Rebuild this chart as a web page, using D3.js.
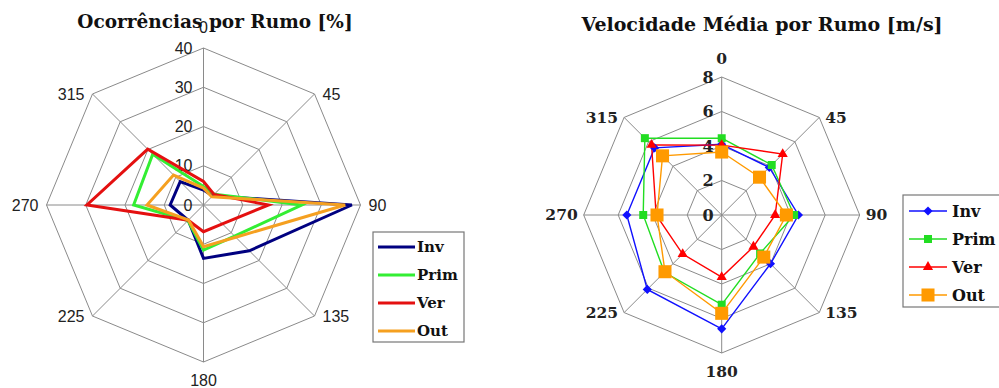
<!DOCTYPE html>
<html>
<head>
<meta charset="utf-8">
<script src="https://cdn.jsdelivr.net/npm/d3@7/dist/d3.min.js"></script>
<style>
html,body{margin:0;padding:0;background:#fff;}
svg{display:block;}
</style>
</head>
<body>
<svg id="chart" width="999" height="388"></svg>
<script>
// ---------- DATA ----------
const directions = [0, 45, 90, 135, 180, 225, 270, 315];
const directionLabels = ["0", "45", "90", "135", "180", "225", "270", "315"];
const seriesNames = ["Inv", "Prim", "Ver", "Out"];

// Ocorrências por Rumo [%]
const occTicks = [0, 10, 20, 30, 40];
const occInv  = [3.8, 3.3, 37.8, 16.5, 13.6, 5.5, 8.5, 8.4];
const occPrim = [4.7, 3.9, 25.0, 11.2, 11.5, 5.6, 17.8, 18.3];
const occVer  = [6.0, 3.8, 16.6, 6.8, 6.8, 5.5, 29.7, 20.1];
const occOut  = [4.3, 3.0, 36.1, 11.6, 10.6, 5.4, 14.4, 10.8];

// Velocidade Média por Rumo [m/s]
const velTicks = [0, 2, 4, 6, 8];
const velInv  = [4.1, 3.9, 4.45, 4.0, 6.6, 6.1, 5.5, 5.5];
const velPrim = [4.45, 4.1, 4.2, 3.15, 5.2, 4.7, 4.55, 6.3];
const velVer  = [4.05, 5.0, 3.1, 2.6, 3.6, 3.2, 3.8, 5.75];
const velOut  = [3.65, 3.1, 3.75, 3.45, 5.7, 4.65, 3.75, 4.85];

// ---------- DRAW ----------
const svg = d3.select("#chart");
const gridColor = "#8a8a8a";

function radar(opts) {
  const g = svg.append("g").attr("transform", `translate(${opts.cx},${opts.cy})`);
  const r = d3.scaleLinear().domain([0, d3.max(opts.ticks)]).range([0, opts.R]);
  const ang = d => d * Math.PI / 180;
  const ringLine = d3.lineRadial().angle(d => ang(d.a)).radius(d => r(d.v)).curve(d3.curveLinearClosed);

  // rings
  opts.ticks.filter(t => t > 0).forEach(t => {
    g.append("path")
      .attr("d", ringLine(directions.map(a => ({a, v: t}))))
      .attr("fill", "none").attr("stroke", gridColor).attr("stroke-width", 1);
  });
  // spokes
  const maxT = d3.max(opts.ticks);
  directions.forEach(a => {
    g.append("line")
      .attr("x1", 0).attr("y1", 0)
      .attr("x2", r(maxT) * Math.sin(ang(a)))
      .attr("y2", -r(maxT) * Math.cos(ang(a)))
      .attr("stroke", gridColor).attr("stroke-width", 1);
  });
  // tick labels
  opts.ticks.forEach(t => {
    g.append("text")
      .attr("x", opts.tickDx).attr("y", -r(t))
      .attr("dy", "0.35em")
      .attr("text-anchor", "end")
      .attr("font-family", opts.tickFont)
      .attr("font-weight", opts.tickWeight)
      .attr("font-size", opts.tickSize)
      .attr("fill", "#222")
      .text(t);
  });
  // direction labels
  directions.forEach((a, i) => {
    const vx = r(maxT) * Math.sin(ang(a));
    const vy = -r(maxT) * Math.cos(ang(a));
    let x = vx, y = vy, anchor = "middle";
    if (a === 0) { y = vy - opts.vGapTop; }
    else if (a === 180) { y = vy + opts.vGapBottom; }
    else if (a < 180) { x = vx + opts.hGap; anchor = "start"; }
    else { x = vx - opts.hGap; anchor = "end"; }
    g.append("text")
      .attr("x", x).attr("y", y).attr("dy", "0.35em")
      .attr("text-anchor", anchor)
      .attr("font-family", opts.tickFont)
      .attr("font-weight", opts.tickWeight)
      .attr("font-size", opts.dirSize)
      .attr("fill", "#222")
      .text(directionLabels[i]);
  });

  // series
  const line = d3.lineRadial()
    .angle((d, i) => ang(directions[i]))
    .radius(d => r(d))
    .curve(d3.curveLinearClosed);
  opts.series.forEach(s => {
    g.append("path")
      .attr("d", line(s.values))
      .attr("fill", "none")
      .attr("stroke", s.color)
      .attr("stroke-width", opts.lineWidth)
      .attr("stroke-linejoin", "miter");
  });
  if (opts.markers) {
    opts.series.forEach(s => {
      s.values.forEach((v, i) => {
        const x = r(v) * Math.sin(ang(directions[i]));
        const y = -r(v) * Math.cos(ang(directions[i]));
        drawMarker(g, s, x, y);
      });
    });
  }

  // title
  svg.append("text")
    .attr("x", opts.titleX).attr("y", opts.titleY)
    .attr("text-anchor", "middle")
    .attr("font-family", "'DejaVu Serif', serif")
    .attr("font-weight", "bold")
    .attr("font-size", opts.titleSize)
    .attr("fill", "#111")
    .text(opts.title);

  // legend
  const L = opts.legend;
  const lg = svg.append("g").attr("transform", `translate(${L.x},${L.y})`);
  lg.append("rect").attr("x", 0).attr("y", 0).attr("width", L.w).attr("height", L.h)
    .attr("fill", "#fff").attr("stroke", "#777").attr("stroke-width", 1.2);
  opts.series.forEach((s, i) => {
    const yy = L.row0 + i * L.rowH;
    lg.append("line").attr("x1", L.lx1).attr("x2", L.lx2).attr("y1", yy).attr("y2", yy)
      .attr("stroke", s.color).attr("stroke-width", opts.lineWidth);
    if (opts.markers) drawMarker(lg, s, (L.lx1 + L.lx2) / 2, yy);
    lg.append("text").attr("x", L.tx).attr("y", yy).attr("dy", "0.35em")
      .attr("font-family", "'DejaVu Serif', serif").attr("font-weight", "bold")
      .attr("font-size", L.fontSize).attr("fill", "#111").text(s.name);
  });
}

function drawMarker(g, s, x, y) {
  const sym = d3.symbol().type(s.symbol).size(s.size);
  g.append("path")
    .attr("d", sym())
    .attr("transform", `translate(${x},${y}) rotate(${s.rotate || 0})`)
    .attr("fill", s.color);
}

radar({
  cx: 203.5, cy: 205, R: 157,
  ticks: occTicks,
  tickDx: -11, tickFont: "'Liberation Sans', Arial, sans-serif", tickWeight: "normal",
  tickSize: 16, dirSize: 16, hGap: 8, vGapTop: 21, vGapBottom: 18,
  lineWidth: 3, markers: false,
  series: [
    {name: seriesNames[0], values: occInv,  color: "#000080"},
    {name: seriesNames[1], values: occPrim, color: "#33ee33"},
    {name: seriesNames[2], values: occVer,  color: "#e41010"},
    {name: seriesNames[3], values: occOut,  color: "#f5a020"}
  ],
  title: "Ocorrências por Rumo [%]", titleX: 215, titleY: 28, titleSize: 18.5,
  legend: {x: 373, y: 232, w: 91, h: 110, row0: 15, rowH: 28, lx1: 5, lx2: 42, tx: 44, fontSize: 15}
});

radar({
  cx: 721.7, cy: 215, R: 138,
  ticks: velTicks,
  tickDx: -8, tickFont: "'DejaVu Serif', serif", tickWeight: "bold",
  tickSize: 16, dirSize: 15.5, hGap: 6, vGapTop: 18, vGapBottom: 19,
  lineWidth: 1.4, markers: true,
  series: [
    {name: seriesNames[0], values: velInv,  color: "#1010ff", symbol: d3.symbolSquare, size: 42, rotate: 45},
    {name: seriesNames[1], values: velPrim, color: "#22dd22", symbol: d3.symbolSquare, size: 64},
    {name: seriesNames[2], values: velVer,  color: "#ff0000", symbol: d3.symbolTriangle, size: 45},
    {name: seriesNames[3], values: velOut,  color: "#ff9a00", symbol: d3.symbolSquare, size: 170}
  ],
  title: "Velocidade Média por Rumo [m/s]", titleX: 762, titleY: 31, titleSize: 19,
  legend: {x: 903, y: 195, w: 110, h: 112, row0: 16, rowH: 28, lx1: 6, lx2: 44, tx: 49, fontSize: 16}
});
</script>
</body>
</html>
